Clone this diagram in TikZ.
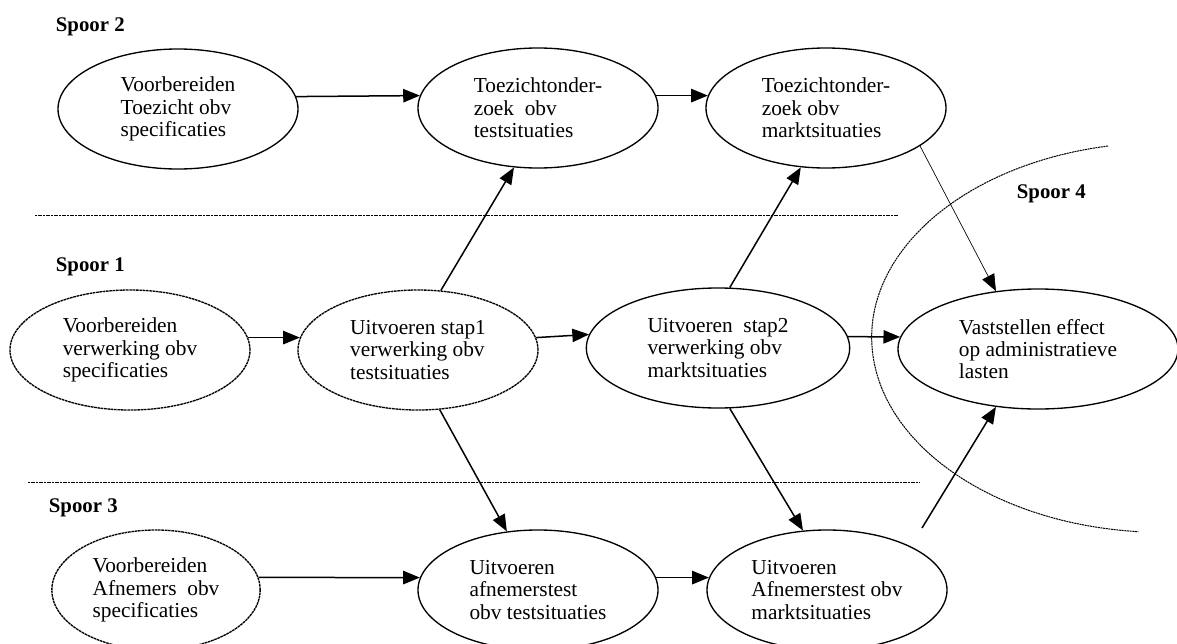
\documentclass[tikz,border=0pt]{standalone}
\usepackage{fontspec}
\setmainfont{Liberation Serif}
\usetikzlibrary{arrows.meta, shapes.geometric}

\begin{document}
\begin{tikzpicture}[
    x=0.6pt, y=-0.6pt,
    font=\fontsize{12.8}{13.4}\selectfont,
    proces/.style={draw, ellipse, line width=0.8pt, inner sep=0pt, minimum width=144pt, minimum height=72pt, align=left},
    gepland/.style={proces, dash pattern=on 1.6pt off 0.4pt},
    spoor/.style={anchor=west, font=\fontsize{12.5}{13.4}\selectfont\bfseries},
    scheiding/.style={line width=0.6pt, dash pattern=on 1.2pt off 0.4pt},
    arrow/.style={-{Triangle[length=10pt, width=8pt]}, line width=0.9pt}
]
\useasboundingbox (0,0) rectangle (1177,644);

% Spoor 2
\node[spoor] (s2) at (50,27) {Spoor 2};
\node[proces] (vtoez) at (178,109) {Voorbereiden\\Toezicht obv\\specificaties};
\node[proces] (ttest) at (538,108) {Toezichtonder-\\zoek\ \ obv\\testsituaties};
\node[proces] (tmarkt) at (826,108) {Toezichtonder-\\zoek obv\\marktsituaties};

% Spoor 1
\node[spoor] (s1) at (50,267) {Spoor 1};
\node[gepland] (vverw) at (130,350) {Voorbereiden\\verwerking obv\\specificaties};
\node[gepland] (stap1) at (418,350) {Uitvoeren stap1\\verwerking obv\\testsituaties};
\node[proces, minimum width=158pt] (stap2) at (718,348) {Uitvoeren\ \ stap2\\verwerking obv\\marktsituaties};

% Spoor 3
\node[spoor] (s3) at (43,508) {Spoor 3};
\node[gepland, minimum width=125pt] (vafn) at (156,590) {Voorbereiden\\Afnemers\ \ obv\\specificaties};
\node[proces] (atest) at (538,590) {Uitvoeren\\afnemerstest\\obv testsituaties};
\node[proces] (amarkt) at (827,590) {Uitvoeren\\Afnemerstest obv\\marktsituaties};

% Spoor 4
\node[spoor] (s4) at (1011,194) {Spoor 4};
\node[proces, minimum width=168pt] (effect) at (1038,349) {Vaststellen effect\\op administratieve\\lasten};
\coordinate (vanafn) at (922,528);

% scheidingslijnen
\draw[scheiding] (35,215) -- (898,215);
\draw[scheiding] (28,482) -- (920,482);
\draw[scheiding] (1108,146) arc[start angle=101, end angle=265, x radius=175.2pt, y radius=117pt];

% horizontale pijlen
\draw[arrow] (vtoez.6)  -- (ttest.174);
\draw[arrow] (ttest.6)  -- (tmarkt.174);
\draw[arrow] (vverw.6)  -- (stap1.174);
\draw[arrow] (stap1.6)  -- (stap2.174);
\draw[arrow] (stap2.5)  -- (effect.175);
\draw[arrow] (vafn.7)   -- (atest.174);
\draw[arrow] (atest.6)  -- (amarkt.174);

% schuine pijlen
\draw[arrow] (stap1.69)  -- (ttest.248);
\draw[arrow] (stap2.79)  -- (tmarkt.247);
\draw[arrow] (stap1.290) -- (atest.118);
\draw[arrow] (stap2.281) -- (amarkt.112);
\draw[arrow, line width=0.4pt] (tmarkt.338) -- (effect.126);
\draw[arrow] (vanafn) -- (effect.234);
\end{tikzpicture}
\end{document}
